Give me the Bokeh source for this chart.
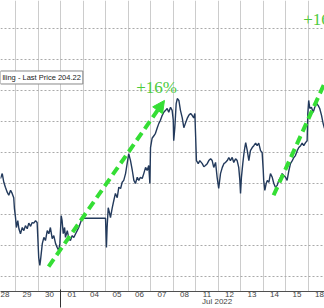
from bokeh.plotting import figure
from bokeh.models import FixedTicker, LinearAxis, Arrow, NormalHead, Label, ColumnDataSource
from bokeh.core.properties import value
from bokeh.embed import file_html
from bokeh.resources import INLINE

# ---- data -------------------------------------------------------------
day_labels = ["28", "29", "30", "01", "04", "05", "06", "07", "08",
              "11", "12", "13", "14", "15", "18"]
month_label = "Jul 2022"
month_label_pos = 9.45
month_break = 2.5
price_grid = [180, 185, 190, 195, 200, 205, 210, 215, 220]

# trading-day position (day index, intraday fraction) and index level
t = [
    -0.18, -0.10, -0.03, 0.04, 0.12, 0.19, 0.27, 0.34, 0.41, 0.44,
    0.49, 0.53, 0.59, 0.64, 0.71, 0.79, 0.86, 0.93, 1.01, 1.08, 1.16, 1.23, 1.30, 1.38, 1.45,
    1.48, 1.52, 1.57, 1.60, 1.68, 1.75, 1.82, 1.90, 1.97, 2.04, 2.12, 2.19, 2.27, 2.34, 2.41, 2.46,
    2.52, 2.56, 2.61, 2.67, 2.71, 2.79, 2.86, 2.93, 3.01, 3.08, 3.16, 3.23, 3.30, 3.38, 3.45,
    4.49, 4.53, 4.56, 4.61, 4.67, 4.71, 4.79, 4.86, 4.93, 5.01, 5.08, 5.16, 5.23, 5.30, 5.38, 5.45,
    5.52, 5.60, 5.68, 5.75, 5.82, 5.90, 5.97, 6.04, 6.12, 6.19, 6.27, 6.34, 6.41, 6.46,
    6.49, 6.56, 6.64, 6.71, 6.79, 6.86, 6.93, 7.01, 7.08, 7.16, 7.23, 7.30, 7.38, 7.45,
    7.50, 7.52, 7.57, 7.63, 7.68, 7.75, 7.82, 7.90, 7.97, 8.04, 8.12, 8.19, 8.27, 8.34, 8.41, 8.46,
    8.49, 8.53, 8.61, 8.68, 8.79, 8.86, 8.93, 9.01, 9.08, 9.16, 9.23, 9.30, 9.38, 9.45,
    9.52, 9.60, 9.68, 9.75, 9.82, 9.90, 9.97, 10.04, 10.12, 10.19, 10.27, 10.34, 10.41, 10.46,
    10.49, 10.53, 10.59, 10.64, 10.68, 10.72, 10.79, 10.86, 10.93, 11.01, 11.08, 11.16, 11.23, 11.30, 11.38, 11.45,
    11.50, 11.52, 11.57, 11.63, 11.68, 11.75, 11.82, 11.90, 11.97, 12.04, 12.12, 12.19, 12.27, 12.34, 12.41,
    12.49, 12.56, 12.64, 12.71, 12.79, 12.86, 12.93, 13.01, 13.08, 13.16, 13.23, 13.30, 13.38, 13.45,
    13.48, 13.52, 13.57, 13.64, 13.72, 13.79, 13.87, 13.94, 14.01, 14.09, 14.16, 14.22,
]
price = [
    195.8, 196.6, 195.2, 194.4, 193.6, 193.1, 193.9, 193.4, 192.7, 191.0,
    189.5, 187.9, 189.0, 187.7, 186.9, 187.9, 187.4, 188.2, 187.7, 188.6, 188.1, 188.7, 188.6, 189.0, 188.7,
    186.3, 183.1, 181.8, 182.6, 185.3, 186.3, 185.8, 187.4, 186.9, 187.9, 186.1, 186.6, 185.3, 184.7, 184.2, 185.3,
    189.8, 189.0, 186.9, 187.9, 186.3, 187.4, 186.1, 185.8, 186.6, 186.3, 186.9, 187.4, 187.9, 188.7, 189.4,
    189.4, 184.7, 187.9, 191.1, 190.2, 189.5, 191.1, 192.3, 193.4, 192.7, 194.4, 194.2, 195.2, 195.5, 196.6, 198.2,
    199.8, 198.7, 197.1, 195.5, 195.0, 196.0, 195.5, 196.0, 195.8, 196.6, 197.6, 197.1, 197.9, 195.0,
    200.8, 202.3, 202.7, 203.1, 204.0, 204.7, 205.2, 206.0, 206.5, 206.8, 207.1, 206.5, 207.3, 206.8,
    205.2, 201.9, 204.0, 207.9, 208.7, 208.4, 206.8, 205.6, 204.0, 204.7, 205.5, 206.0, 206.3, 206.0, 205.6, 206.3,
    203.1, 198.7, 198.2, 198.7, 198.2, 197.7, 197.9, 198.2, 198.7, 199.0, 198.7, 197.6, 198.4, 196.0,
    194.2, 196.6, 197.6, 198.2, 198.4, 198.7, 199.2, 198.7, 199.2, 198.4, 199.0, 198.7, 197.6, 195.5,
    193.4, 196.0, 198.2, 199.8, 200.8, 201.6, 200.3, 198.7, 200.3, 200.8, 201.1, 201.5, 201.1, 201.5, 200.3, 200.0,
    197.1, 195.5, 193.9, 195.0, 195.5, 195.2, 196.6, 196.0, 195.0, 194.4, 194.7, 195.5, 196.0, 196.6, 196.3,
    196.0, 195.5, 197.1, 198.2, 198.7, 199.2, 199.5, 200.3, 200.8, 201.1, 201.5, 201.1, 201.6, 201.9,
    206.3, 208.4, 207.1, 207.3, 206.5, 207.3, 207.9, 207.6, 207.1, 206.0, 204.7, 203.9,
]

legend_text = "lling - Last Price 204.22"
legend_x = -0.18
legend_y = 212.1

gain_text = ["+16%", "+16%"]
gain_x = [6.76, 14.18]
gain_y = [210.5, 221.4]

arrow_x0 = [1.96, 11.96]
arrow_y0 = [181.6, 193.1]
arrow_x1 = [7.11, 14.93]
arrow_y1 = [208.4, 216.8]

# ---- figure -----------------------------------------------------------
GREEN = "#35de35"
TEXT_GREEN = "#4ccb3c"
LABEL_COLOR = "#444444"

p = figure(width=324, height=308, x_range=(-0.178, 14.222), y_range=(177.58, 224.52),
           output_backend="svg", toolbar_location=None, min_border=0)
p.outline_line_color = None
p.yaxis.visible = False
p.background_fill_color = "white"

centers = list(range(len(day_labels)))

# day labels
xa = p.xaxis[0]
xa.ticker = FixedTicker(ticks=centers)
xa.major_label_overrides = {i: lab for i, lab in zip(centers, day_labels)}
xa.major_tick_out = 0
xa.major_tick_in = 0
xa.minor_tick_line_color = None
xa.axis_line_color = "#505050"
xa.major_label_text_font = "Liberation Sans"
xa.major_label_text_font_size = "8px"
xa.major_label_text_line_height = 1.0
xa.major_label_text_color = LABEL_COLOR
xa.major_label_standoff = 0

# month label + month separator tick
xb = LinearAxis(ticker=FixedTicker(ticks=[month_label_pos], minor_ticks=[month_break]),
                major_label_overrides={month_label_pos: month_label})
xb.axis_line_color = None
xb.major_tick_line_color = None
xb.major_tick_out = 0
xb.major_tick_in = 0
xb.minor_tick_line_color = "#333333"
xb.minor_tick_in = 10
xb.minor_tick_out = 8
xb.major_label_text_font = "Liberation Sans"
xb.major_label_text_font_size = "8px"
xb.major_label_text_line_height = 0.75
xb.major_label_text_color = LABEL_COLOR
xb.major_label_standoff = -11
p.add_layout(xb, "below")

p.xgrid.ticker = FixedTicker(ticks=[c + 0.5 for c in centers[:-1]])
p.xgrid.grid_line_color = "#cccccc"
p.ygrid.ticker = FixedTicker(ticks=price_grid)
p.ygrid.grid_line_color = "#aaaaaa"
p.ygrid.grid_line_dash = "2 2"

p.line(t, price, line_color="#233a5c", line_width=1.4)

for x0, y0, x1, y1 in zip(arrow_x0, arrow_y0, arrow_x1, arrow_y1):
    p.add_layout(Arrow(end=NormalHead(size=12, fill_color=GREEN, line_color=GREEN),
                       x_start=x0, y_start=y0, x_end=x1, y_end=y1,
                       line_color=GREEN, line_width=4, line_dash="9 5"))

src = ColumnDataSource(dict(x=gain_x, y=gain_y, text=gain_text))
p.text(x="x", y="y", text="text", source=src, text_font=value("Liberation Serif"),
       text_font_size="17px", text_color=TEXT_GREEN, text_align="center",
       text_baseline="middle")

p.add_layout(Label(x=legend_x, y=legend_y, text=legend_text, text_font="Liberation Sans",
                   text_font_size="7.5px", text_baseline="middle", text_align="left",
                   text_color="#222222", background_fill_color="white",
                   border_line_color="#888888", padding=2))

open("out.html", "w").write(file_html(p, INLINE))
